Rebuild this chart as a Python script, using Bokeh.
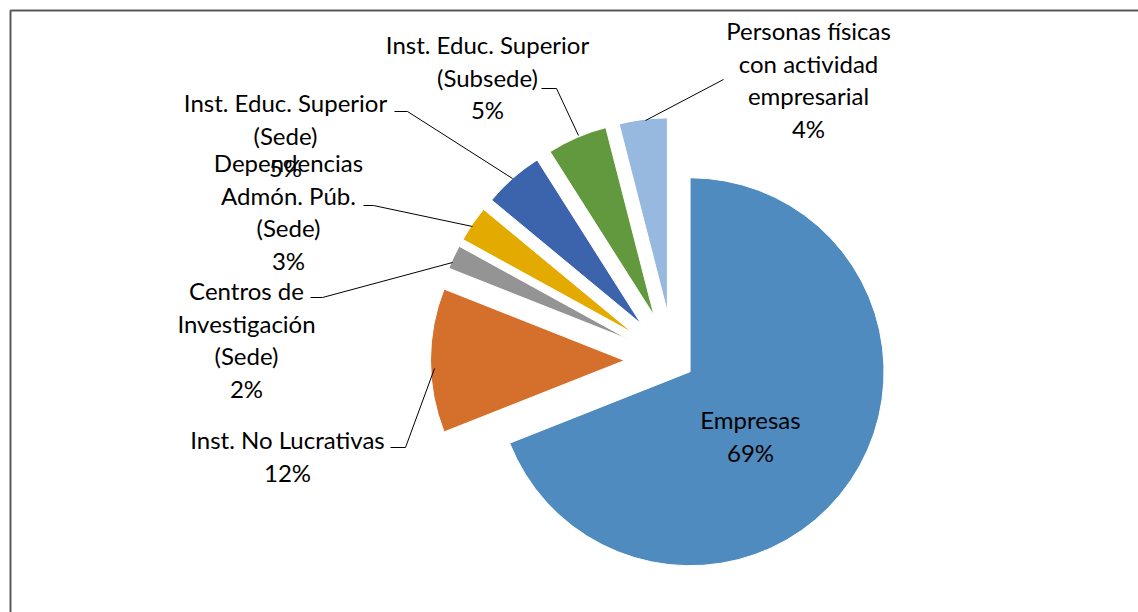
import math
from bokeh.plotting import figure
from bokeh.models import Range1d, ColumnDataSource
from bokeh.core.properties import value
from bokeh.embed import file_html
from bokeh.resources import INLINE

# ---- data ----
categories = ["Empresas", "Inst. No Lucrativas", "Centros de Investigación (Sede)",
              "Dependencias Admón. Púb. (Sede)", "Inst. Educ. Superior (Sede)",
              "Inst. Educ. Superior (Subsede)", "Personas físicas con actividad empresarial"]
values = [69, 12, 2, 3, 5, 5, 4]
label_lines = [["Empresas"], ["Inst. No Lucrativas"], ["Centros de", "Investigación", "(Sede)"],
               ["Dependencias", "Admón. Púb.", "(Sede)"], ["Inst. Educ. Superior", "(Sede)"],
               ["Inst. Educ. Superior", "(Subsede)"], ["Personas físicas", "con actividad", "empresarial"]]
colors = ["#508BBF", "#D4702C", "#949494", "#E3AB00", "#3C64AD", "#62993F", "#97B9E0"]

# ---- layout / style ----
W, H = 1138, 612
def Y(y_ref):  # reference pixel row -> data y
    return H - y_ref

cx, cy = 673, Y(360)
radius = 194
explode = [20, 49, 49, 49, 49, 49, 49]
# label centres (reference pixels) of first line, and line step
label_pos = [(750, 419), (287, 439), (246, 290), (288, 162), (285, 102), (487, 44), (808, 30)]
line_step = 32.5

total = sum(values)
xs, ys, starts, ends = [], [], [], []
acc = 0.0
for v, e in zip(values, explode):
    t0 = acc / total * 2 * math.pi
    acc += v
    t1 = acc / total * 2 * math.pi
    tm = (t0 + t1) / 2
    xs.append(cx + e * math.sin(tm))
    ys.append(cy + e * math.cos(tm))
    starts.append(math.pi / 2 - t0)
    ends.append(math.pi / 2 - t1)

p = figure(width=W, height=H, output_backend="svg", toolbar_location=None,
           x_range=Range1d(0, W), y_range=Range1d(0, H), min_border=0)
p.axis.visible = False
p.grid.visible = False
p.outline_line_color = None
p.background_fill_color = "white"

src = ColumnDataSource(dict(x=xs, y=ys, s=starts, e=ends, c=colors))
p.wedge(x="x", y="y", radius=radius, start_angle="s", end_angle="e", direction="clock",
        fill_color="c", line_color="white", line_width=1, source=src)

# frame
p.line([10, 10, 1200], [Y(700), Y(10), Y(10)], line_color="#595959", line_width=2)

# leader lines (reference pixels)
leaders = [
    [(390, 447), (405, 447), (434, 368)],
    [(310, 297), (322, 297), (452, 262)],
    [(363, 205), (373, 205), (472, 226)],
    [(394, 111), (407, 111), (512, 178)],
    [(541, 88), (556, 88), (578, 135)],
    [(645, 120), (723, 79)],
]
p.multi_line([[a for a, b in l] for l in leaders], [[Y(b) for a, b in l] for l in leaders],
             line_color="black", line_width=1)

tx, ty, tt = [], [], []
for lines, v, (lx, ly) in zip(label_lines, values, label_pos):
    allines = lines + [f"{v}%"]
    for i, t in enumerate(allines):
        tx.append(lx)
        ty.append(Y(ly + i * line_step))
        tt.append(t)
p.text(x=tx, y=ty, text=tt, text_align="center", text_baseline="middle",
       text_font=value("Lato"), text_font_size="24px", text_color="black")

open("out.html", "w").write(file_html(p, INLINE))
